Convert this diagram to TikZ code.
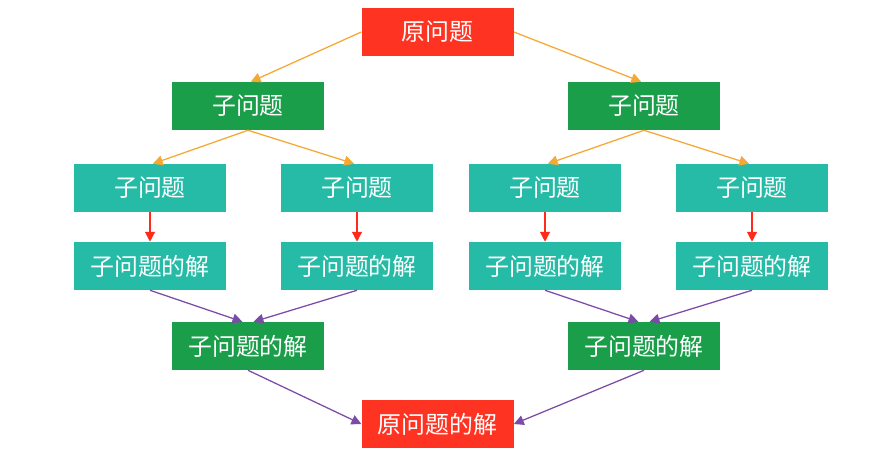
\documentclass[tikz,border=0pt]{standalone}
\usepackage{fontspec}
\setmainfont{Noto Sans CJK SC}
\usetikzlibrary{arrows.meta}
\definecolor{yuanred}{HTML}{FF3322}
\definecolor{zigreen}{HTML}{1A9E4A}
\definecolor{ziteal}{HTML}{26BBA6}
\definecolor{fenorange}{HTML}{F5A833}
\definecolor{hepurple}{HTML}{7B4BA8}
\definecolor{jiered}{HTML}{FF2A1A}
\tikzset{
  box/.style={minimum width=3.8cm, minimum height=1.2cm, inner sep=0pt, text=white, font=\fontsize{17}{20}\selectfont},
  yuan/.style={box, fill=yuanred},
  zi/.style={box, fill=zigreen},
  ye/.style={box, fill=ziteal},
  fen/.style={draw=fenorange, line width=0.9pt, -{Triangle[length=7pt,width=7pt]}},
  jie/.style={draw=jiered, line width=0.9pt, -{Triangle[length=7pt,width=7pt]}},
  he/.style={draw=hepurple, line width=0.9pt, -{Triangle[length=7pt,width=7pt]}}
}
\begin{document}
\begin{tikzpicture}
        \useasboundingbox (0,0) rectangle (22.15,-11.7);
        \node[yuan] at (10.94,-0.8) (top) {原问题};
        \node[zi] at (6.2,-2.65) (l) {子问题};
        \node[zi] at (16.1,-2.65) (r) {子问题};
        \node[ye] at (3.75,-4.7) (la) {子问题};
        \node[ye] at (8.925,-4.7) (lb) {子问题};
        \node[ye] at (13.625,-4.7) (ra) {子问题};
        \node[ye] at (18.8,-4.7) (rb) {子问题};
        \node[ye] at (3.75,-6.65) (laj) {子问题的解};
        \node[ye] at (8.925,-6.65) (lbj) {子问题的解};
        \node[ye] at (13.625,-6.65) (raj) {子问题的解};
        \node[ye] at (18.8,-6.65) (rbj) {子问题的解};
        \node[zi] at (6.2,-8.65) (lj) {子问题的解};
        \node[zi] at (16.1,-8.65) (rj) {子问题的解};
        \node[yuan] at (10.94,-10.6) (bot) {原问题的解};

        \draw[fen] (top.west)--([xshift=2pt]l.north);
        \draw[fen] (top.east)--([xshift=-2pt]r.north);
        \draw[fen] (l.south)--([xshift=2pt]la.north);
        \draw[fen] (l.south)--([xshift=-2pt]lb.north);
        \draw[fen] (r.south)--([xshift=2pt]ra.north);
        \draw[fen] (r.south)--([xshift=-2pt]rb.north);
        \draw[jie] (la)--(laj);
        \draw[jie] (lb)--(lbj);
        \draw[jie] (ra)--(raj);
        \draw[jie] (rb)--(rbj);
        \draw[he] (laj.south)--([xshift=-4pt]lj.north);
        \draw[he] (lbj.south)--([xshift=4pt]lj.north);
        \draw[he] (raj.south)--([xshift=-4pt]rj.north);
        \draw[he] (rbj.south)--([xshift=4pt]rj.north);
        \draw[he] (lj.south)--(bot.west);
        \draw[he] (rj.south)--(bot.east);
      \end{tikzpicture}
\end{document}
